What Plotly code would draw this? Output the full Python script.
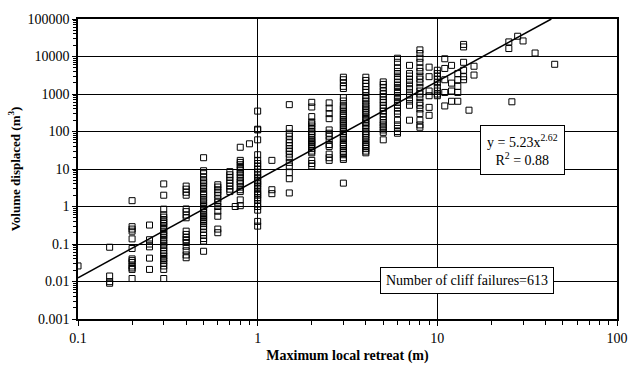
import plotly.graph_objects as go

# Observed cliff failures: (maximum local retreat [m], [volumes displaced m^3])
failures_by_retreat = [
    (0.1, [0.026]),
    (0.15, [0.082, 0.014, 0.0099, 0.009]),
    (0.2, [1.43, 0.29, 0.25, 0.22, 0.137, 0.076, 0.04, 0.036, 0.032, 0.026, 0.023, 0.021, 0.012]),
    (0.25, [0.32, 0.13, 0.1, 0.084, 0.042, 0.021]),
    (0.3, [4.0, 2.0, 0.85, 0.6, 0.52, 0.45, 0.39, 0.35, 0.30, 0.26, 0.22, 0.19, 0.17, 0.146,
           0.125, 0.106, 0.092, 0.079, 0.066, 0.056, 0.048, 0.041, 0.036, 0.031, 0.026, 0.021, 0.012]),
    (0.4, [3.5, 2.9, 2.4, 2.0, 0.86, 0.73, 0.59, 0.5, 0.22, 0.18, 0.15, 0.13, 0.11, 0.087,
           0.066, 0.051, 0.043]),
    (0.5, [20, 9, 7.5, 6, 5, 4.5, 4, 3.5, 3, 2.5, 2.2, 2, 1.7, 1.5, 1.3, 1.1, 1, 0.9, 0.8,
           0.7, 0.6, 0.55, 0.5, 0.45, 0.4, 0.35, 0.3, 0.25, 0.2, 0.17, 0.14, 0.12, 0.064]),
    (0.6, [3.8, 3.3, 2.8, 2.4, 2.0, 1.6, 1.3, 1.0, 0.75, 0.55, 0.25, 0.2]),
    (0.7, [8.5, 7, 6, 5, 4.2, 3.5, 2.9, 2.5]),
    (0.75, [1.0]),
    (0.8, [38, 17, 15, 13, 11, 9.5, 8, 7, 6, 5, 4.5, 4, 3.3, 2.8, 2.5, 1.5, 1.05]),
    (0.9, [47]),
    (1.0, [350, 115, 110, 60, 24, 17, 14, 12, 10, 8, 7, 6, 5, 4.5, 4, 3.5, 3, 2.5, 2.2, 2,
           1.7, 1.5, 1.2, 1.0, 0.8, 0.4, 0.3]),
    (1.2, [17, 2.8, 2.2]),
    (1.5, [520, 120, 90, 75, 60, 50, 42, 35, 30, 25, 20, 15, 12, 8, 5.5, 2.3]),
    (2.0, [600, 450, 250, 180, 160, 140, 120, 100, 90, 80, 70, 60, 55, 50, 45, 40, 35, 30,
           27, 17, 14, 12]),
    (2.5, [580, 420, 300, 220, 110, 90, 75, 60, 45, 40, 25, 20, 17]),
    (3.0, [2800, 2400, 2000, 1600, 1400, 800, 650, 500, 450, 400, 350, 300, 270, 240, 210,
           190, 170, 150, 130, 115, 100, 90, 80, 70, 60, 50, 45, 40, 35, 30, 27, 24, 20, 18, 4.2]),
    (4.0, [2800, 2300, 1900, 1600, 1300, 1100, 900, 750, 650, 550, 480, 420, 370, 320, 280,
           240, 210, 180, 160, 140, 120, 100, 90, 80, 70, 60, 52, 45, 40, 35, 30, 27]),
    (5.0, [2100, 1800, 1500, 1200, 1000, 850, 700, 600, 500, 420, 350, 300, 250, 200, 170,
           150, 130, 110, 95, 60]),
    (6.0, [9000, 7000, 5000, 4000, 3500, 3000, 2500, 2000, 1700, 1500, 1300, 1100, 900, 800,
           700, 600, 500, 420, 350, 300, 200, 150, 120, 100, 90]),
    (7.0, [5800, 3500, 3000, 2500, 2000, 1600, 1300, 1000, 800, 650, 500, 200]),
    (8.0, [15000, 12000, 9000, 7000, 5000, 4000, 3000, 2500, 2000, 1500, 1200, 1000, 800,
           600, 500, 400, 300, 200, 150, 130]),
    (9.0, [5200, 2900, 1200, 900, 440, 270]),
    (10.0, [4300, 3500, 3000, 2500, 2000, 1500, 1200, 1000, 900]),
    (11.0, [8700, 4800, 2400, 1100, 480]),
    (12.0, [5800, 1950, 1200, 640]),
    (13.0, [3500, 2400, 1600, 1100, 640]),
    (14.0, [21000, 18000, 7000, 4300, 2900, 2400]),
    (15.0, [370]),
    (16.0, [5500, 3200]),
    (25.0, [24500, 16300]),
    (26.0, [620]),
    (28.0, [34700]),
    (30.0, [26000]),
    (35.0, [12400]),
    (45.0, [6200]),
]

retreat_m = [x for x, vols in failures_by_retreat for _ in vols]
volume_m3 = [v for _, vols in failures_by_retreat for v in vols]

# Power-law fit shown on chart: y = a * x^b
fit_a = 5.23
fit_b = 2.62
fit_x = [0.1, 43.1]
fit_y = [fit_a * x ** fit_b for x in fit_x]

x_ticks = [0.1, 1, 10, 100]
x_ticklabels = ["0.1", "1", "10", "100"]
y_ticks = [0.001, 0.01, 0.1, 1, 10, 100, 1000, 10000, 100000]
y_ticklabels = ["0.001", "0.01", "0.1", "1", "10", "100", "1000", "10000", "100000"]

x_minor = [k * 10 ** e for e in range(-1, 2) for k in range(2, 10)]
y_minor = [k * 10 ** e for e in range(-3, 5) for k in range(2, 10)]

FONT = "Liberation Serif, Times New Roman, serif"

fig = go.Figure()
fig.add_trace(go.Scatter(
    x=retreat_m, y=volume_m3, mode="markers",
    marker=dict(symbol="square-open", size=6, color="black", line=dict(width=1, color="black")),
    showlegend=False,
))
fig.add_trace(go.Scatter(
    x=fit_x, y=fit_y, mode="lines",
    line=dict(color="black", width=1.5), showlegend=False,
))

fig.update_xaxes(
    type="log", range=[-1, 2],
    tickmode="array", tickvals=x_ticks, ticktext=x_ticklabels,
    ticks="outside", ticklen=5, tickcolor="black",
    minor=dict(tickvals=x_minor, ticks="outside", ticklen=4, tickcolor="black", showgrid=False),
    showgrid=True, gridcolor="black", gridwidth=1,
    showline=True, linecolor="black", linewidth=1.5, mirror=True,
    zeroline=False,
    tickfont=dict(family=FONT, size=14, color="black"),
    title=dict(text="<b>Maximum local retreat (m)</b>", font=dict(family=FONT, size=14, color="black"),
               standoff=6),
)
fig.update_yaxes(
    type="log", range=[-3, 5],
    tickmode="array", tickvals=y_ticks, ticktext=y_ticklabels,
    ticks="outside", ticklen=4, tickcolor="black",
    minor=dict(tickvals=y_minor, ticks="outside", ticklen=3, tickcolor="black", showgrid=False),
    showgrid=True, gridcolor="black", gridwidth=1,
    showline=True, linecolor="black", linewidth=1.5, mirror=True,
    zeroline=False,
    tickfont=dict(family=FONT, size=14, color="black"),
    title=dict(text="<b>Volume displaced (m<sup>3</sup>)</b>", font=dict(family=FONT, size=13, color="black"),
               standoff=4),
)

fig.add_annotation(
    xref="paper", yref="paper", x=0.824, y=0.5636, xanchor="center", yanchor="middle",
    text="y = 5.23x<sup>2.62</sup><br>R<sup>2</sup> = 0.88",
    showarrow=False, font=dict(family=FONT, size=14, color="black"),
    bgcolor="white", bordercolor="black", borderwidth=1, borderpad=6,
)
fig.add_annotation(
    xref="paper", yref="paper", x=0.722, y=0.128, xanchor="center", yanchor="middle",
    text="Number of cliff failures=613",
    showarrow=False, font=dict(family=FONT, size=14, color="black"),
    bgcolor="white", bordercolor="black", borderwidth=1, borderpad=5,
)

fig.update_layout(
    width=640, height=373,
    margin=dict(l=78, r=22, t=12, b=52),
    plot_bgcolor="white", paper_bgcolor="white",
)

fig.write_html("out.html")
